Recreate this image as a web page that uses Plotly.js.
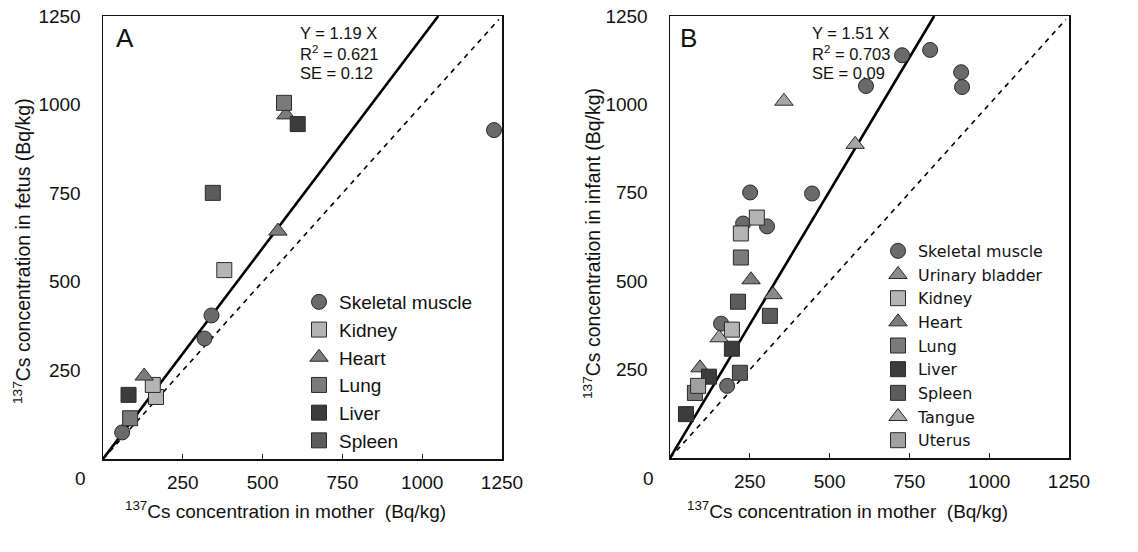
<!DOCTYPE html>
<html>
<head>
<meta charset="utf-8">
<script src="https://cdn.plot.ly/plotly-3.0.1.min.js"></script>
<style>html,body{margin:0;padding:0;background:#fff;}#chart{width:1138px;height:552px;}</style>
</head>
<body>
<div id="chart"></div>
<script>
// ---------- Panel A: fetus vs mother ----------
const A_muscle_x = [1225, 340, 318, 60];
const A_muscle_y = [928, 405, 340, 75];
const A_kidney_x = [166, 156, 380];
const A_kidney_y = [175, 209, 533];
const A_heart_x = [129, 548, 573];
const A_heart_y = [234, 643, 971];
const A_lung_x = [567, 85];
const A_lung_y = [1005, 115];
const A_liver_x = [80, 610];
const A_liver_y = [181, 945];
const A_spleen_x = [344];
const A_spleen_y = [751];
const A_slope = 1.19;
const A_stats = ["Y = 1.19 X", "R<sup>2</sup> = 0.621", "SE = 0.12"];

// ---------- Panel B: infant vs mother ----------
const B_muscle_x = [727, 815, 912, 915, 614, 251, 445, 229, 304, 160, 179];
const B_muscle_y = [1139, 1154, 1091, 1049, 1052, 751, 748, 663, 655, 380, 204];
const B_bladder_x = [94, 323];
const B_bladder_y = [255, 462];
const B_kidney_x = [272, 222, 194];
const B_kidney_y = [680, 635, 363];
const B_heart_x = [254];
const B_heart_y = [504];
const B_lung_x = [222, 78];
const B_lung_y = [567, 184];
const B_liver_x = [194, 122, 50];
const B_liver_y = [309, 230, 124];
const B_spleen_x = [213, 313, 219];
const B_spleen_y = [442, 402, 241];
const B_tangue_x = [357, 580, 154];
const B_tangue_y = [1009, 887, 340];
const B_uterus_x = [88];
const B_uterus_y = [204];
const B_slope = 1.51;
const B_stats = ["Y = 1.51 X", "R<sup>2</sup> = 0.703", "SE = 0.09"];

const tickVals = [250, 500, 750, 1000, 1250];
const axisMax = 1250;
const identityMax = 1240;

const xTitle = "<sup>137</sup>Cs concentration in mother  (Bq/kg)";
const yTitleA = "<sup>137</sup>Cs concentration in fetus (Bq/kg)";
const yTitleB = "<sup>137</sup>Cs concentration in infant (Bq/kg)";

const FONT = "Arial, 'Liberation Sans', Helvetica, sans-serif";
const styles = {
  muscle: {symbol: "circle", color: "#6a6a6a"},
  kidney: {symbol: "square", color: "#b4b4b4"},
  heart:  {symbol: "triangle-up", color: "#7c7c7c"},
  lung:   {symbol: "square", color: "#7a7a7a"},
  liver:  {symbol: "square", color: "#3c3c3c"},
  spleen: {symbol: "square", color: "#5c5c5c"},
  bladder:{symbol: "triangle-up", color: "#8a8a8a"},
  tangue: {symbol: "triangle-up", color: "#a6a6a6"},
  uterus: {symbol: "square", color: "#a0a0a0"}
};

function pts(name, x, y, key, xa, ya, legend) {
  const s = styles[key];
  return {
    type: "scatter", mode: "markers", name: name, x: x, y: y,
    xaxis: xa, yaxis: ya, legend: legend, legendgroup: legend + name,
    marker: {symbol: s.symbol, color: s.color, size: s.symbol === "triangle-up" ? 16 : 15,
             line: {color: "#2a2a2a", width: 1}},
    hoverinfo: "x+y+name"
  };
}
function fitLine(slope, xa, ya) {
  const xEnd = axisMax / slope;
  return {type: "scatter", mode: "lines", x: [0, xEnd], y: [0, slope * xEnd],
          xaxis: xa, yaxis: ya, showlegend: false, hoverinfo: "skip",
          line: {color: "#000", width: 2.6}};
}
function idLine(xa, ya) {
  return {type: "scatter", mode: "lines", x: [0, identityMax], y: [0, identityMax],
          xaxis: xa, yaxis: ya, showlegend: false, hoverinfo: "skip",
          line: {color: "#000", width: 1.6, dash: "5px,5px"}};
}

const data = [
  idLine("x", "y"), fitLine(A_slope, "x", "y"),
  pts("Skeletal muscle", A_muscle_x, A_muscle_y, "muscle", "x", "y", "legend"),
  pts("Kidney", A_kidney_x, A_kidney_y, "kidney", "x", "y", "legend"),
  pts("Heart", A_heart_x, A_heart_y, "heart", "x", "y", "legend"),
  pts("Lung", A_lung_x, A_lung_y, "lung", "x", "y", "legend"),
  pts("Liver", A_liver_x, A_liver_y, "liver", "x", "y", "legend"),
  pts("Spleen", A_spleen_x, A_spleen_y, "spleen", "x", "y", "legend"),

  idLine("x2", "y2"), fitLine(B_slope, "x2", "y2"),
  pts("Skeletal muscle", B_muscle_x, B_muscle_y, "muscle", "x2", "y2", "legend2"),
  pts("Urinary bladder", B_bladder_x, B_bladder_y, "bladder", "x2", "y2", "legend2"),
  pts("Kidney", B_kidney_x, B_kidney_y, "kidney", "x2", "y2", "legend2"),
  pts("Heart", B_heart_x, B_heart_y, "heart", "x2", "y2", "legend2"),
  pts("Lung", B_lung_x, B_lung_y, "lung", "x2", "y2", "legend2"),
  pts("Liver", B_liver_x, B_liver_y, "liver", "x2", "y2", "legend2"),
  pts("Spleen", B_spleen_x, B_spleen_y, "spleen", "x2", "y2", "legend2"),
  pts("Tangue", B_tangue_x, B_tangue_y, "tangue", "x2", "y2", "legend2"),
  pts("Uterus", B_uterus_x, B_uterus_y, "uterus", "x2", "y2", "legend2")
];

const W = 1138, H = 552;
const px = v => v / W, py = v => 1 - v / H;

function xAxis(dom, anchor) {
  return {domain: dom, anchor: anchor, range: [0, axisMax], tickvals: tickVals,
          ticks: "inside", ticklen: 5, tickcolor: "#222", ticklabelstandoff: 6,
          showline: true, mirror: true, linecolor: "#111", linewidth: 1.5,
          showgrid: false, zeroline: false, tickfont: {size: 19, color: "#111"}};
}
function yAxis(dom, anchor) {
  return {domain: dom, anchor: anchor, range: [0, axisMax], tickvals: tickVals,
          ticks: "", ticklabelstandoff: 17,
          showline: true, mirror: true, linecolor: "#111", linewidth: 1.5,
          showgrid: false, zeroline: false, tickfont: {size: 19, color: "#111"}};
}

const statAnn = (lines, xl) => lines.map((t, i) => ({
  text: t, xref: "paper", yref: "paper", x: px(xl), y: py(33 + 20 * i),
  xanchor: "left", yanchor: "middle", showarrow: false, font: {size: 16.5, color: "#111"}
}));
const txt = (t, x, y, size, extra) => Object.assign({
  text: t, xref: "paper", yref: "paper", x: px(x), y: py(y), showarrow: false,
  font: {size: size, color: "#111"}, xanchor: "center", yanchor: "middle"}, extra || {});

const layout = {
  width: W, height: H, margin: {l: 0, r: 0, t: 0, b: 0},
  paper_bgcolor: "#fff", plot_bgcolor: "#fff",
  font: {family: FONT, color: "#111"},
  xaxis: xAxis([px(103), px(502)], "y"),
  yaxis: yAxis([py(459), py(16)], "x"),
  xaxis2: xAxis([px(670), px(1069)], "y2"),
  yaxis2: yAxis([py(458), py(16)], "x2"),
  legend: {x: px(299), y: py(283), xanchor: "left", yanchor: "top", traceorder: "grouped",
           tracegroupgap: 0, bgcolor: "rgba(0,0,0,0)", font: {size: 19}, itemwidth: 30},
  legend2: {x: px(878), y: py(234), xanchor: "left", yanchor: "top", traceorder: "grouped",
            tracegroupgap: 0, bgcolor: "rgba(0,0,0,0)",
            font: {size: 15.9, family: "'DejaVu Sans', Arial, sans-serif"}, itemwidth: 30},
  annotations: [
    txt("A", 125, 38, 26), txt("B", 688, 38, 26),
    txt("0", 80, 478, 19), txt("0", 648, 478, 19),
    txt(xTitle, 285, 510, 19), txt(xTitle, 847, 510, 19),
    txt(yTitleA, 22, 251, 19.5, {textangle: -90}),
    txt(yTitleB, 592, 244, 19.5, {textangle: -90})
  ].concat(statAnn(A_stats, 298)).concat(statAnn(B_stats, 810))
};

Plotly.newPlot("chart", data, layout, {displayModeBar: false, staticPlot: true});
</script>
</body>
</html>
